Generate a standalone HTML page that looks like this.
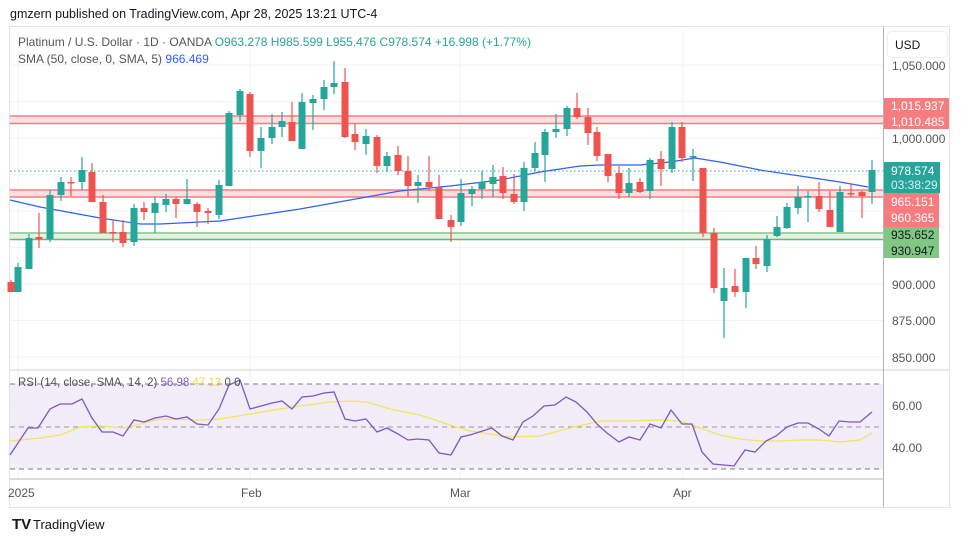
<!DOCTYPE html>
<html><head><meta charset="utf-8"><style>
body{margin:0;background:#fff;width:964px;height:542px;overflow:hidden;font-family:"Liberation Sans",sans-serif;}
svg{position:absolute;left:0;top:0}
</style></head><body>
<svg id="s" width="964" height="542" xmlns="http://www.w3.org/2000/svg" font-family="Liberation Sans, sans-serif">
<text x="10" y="18" font-size="12.5" fill="#131722">gmzern published on TradingView.com, Apr 28, 2025 13:21 UTC-4</text>
<rect x="9.5" y="26.5" width="940" height="481" fill="none" stroke="#e0e3eb"/>
<g id="grid" stroke="#f0f3fa" stroke-width="1"></g>
<!-- bands -->
<rect x="10" y="116" width="873" height="8" fill="#fbe0e1"/>
<line x1="10" y1="116" x2="883" y2="116" stroke="#f77c80" stroke-width="1.5"/>
<line x1="10" y1="123.5" x2="883" y2="123.5" stroke="#f77c80" stroke-width="1.5"/>
<rect x="10" y="190" width="873" height="7" fill="#fbe0e1"/>
<line x1="10" y1="190" x2="883" y2="190" stroke="#f77c80" stroke-width="1.5"/>
<line x1="10" y1="197" x2="883" y2="197" stroke="#f77c80" stroke-width="1.5"/>
<rect x="10" y="233" width="873" height="6" fill="#e3f2e4"/>
<line x1="10" y1="233" x2="883" y2="233" stroke="#81c784" stroke-width="1.5"/>
<line x1="10" y1="239.5" x2="883" y2="239.5" stroke="#66bb6a" stroke-width="1.5"/>
<line x1="10" y1="171" x2="883" y2="171" stroke="#26a69a" stroke-dasharray="1.5,2.5"/>
<polyline fill="none" stroke="#2962ff" stroke-width="1.2" points="10,200 40,207 100,218 140,224 160,224 220,221 260,215 300,209 350,200 400,191 450,186 500,180 540,172 580,166 600,165 640,165 670,162 695,158 720,162 760,170 800,176 840,182 868,187"/>
<g id="c"></g>
<!-- RSI -->
<rect x="10" y="384" width="873" height="85" fill="#ede8f7" opacity="0.8"/>
<line x1="10" y1="384" x2="883" y2="384" stroke="#787b86" stroke-dasharray="5,4"/>
<line x1="10" y1="427" x2="883" y2="427" stroke="#9598a1" stroke-dasharray="5,4"/>
<line x1="10" y1="469" x2="883" y2="469" stroke="#787b86" stroke-dasharray="5,4"/>
<polyline fill="none" stroke="#f7e35c" stroke-width="1.3" points="10,441 40,438 60,435 80,427 100,426 125,428 160,419 200,420 220,419 250,414 280,409 300,406 330,402 350,401 367,402 390,409 420,415 450,425 470,431 490,434 510,437 540,436 570,428 600,421 630,421 660,420 680,421 700,428 720,435 740,439 760,441 780,441 800,440 820,440 840,442 860,440 872,433"/>
<polyline fill="none" stroke="#7e57c2" stroke-width="1.3" points="10,455 28,428 38,428 50,409 60,404 72,404 82,399 92,418 102,432 113,432 123,436 134,420 144,422 155,418 166,416 176,419 187,417 197,424 208,425 219,409 229,385 240,380 250,409 261,406 272,403 282,401 292,409 302,397 313,396 324,393 334,392 345,419 355,421 366,419 377,432 387,428 398,434 408,440 418,439 429,440 439,453 451,455 461,437 470,435 492,428 502,436 513,440 523,422 533,416 544,406 555,405 566,397 576,402 587,412 597,424 607,433 619,442 629,437 640,440 650,424 661,428 671,410 682,424 692,424 702,452 713,464 724,465 734,466 745,450 755,452 766,441 776,436 787,427 798,423 808,423 819,429 829,436 839,421 850,422 860,422 872,412"/>
<line x1="10" y1="370" x2="949" y2="370" stroke="#d1d4dc"/>
<line x1="10" y1="479" x2="883" y2="479" stroke="#b2b5be"/>
<line x1="883.5" y1="27" x2="883.5" y2="507" stroke="#b2b5be"/>
<!-- legends -->
<text x="18" y="46" font-size="12" fill="#555"><tspan>Platinum / U.S. Dollar · 1D · OANDA </tspan><tspan fill="#26a69a">O963.278  H985.599  L955.476  C978.574  +16.998 (+1.77%)</tspan></text>
<text x="18" y="63" font-size="12" fill="#555">SMA (50, close, 0, SMA, 5) <tspan fill="#2962ff">966.469</tspan></text>
<text x="18" y="386" font-size="11.5" fill="#555">RSI (14, close, SMA, 14, 2) <tspan fill="#7e57c2">56.98</tspan> <tspan fill="#f5d936">47.13</tspan> 0 0</text>
<!-- axis labels -->
<rect x="887.5" y="31.5" width="60" height="26" rx="4" fill="#fff" stroke="#eee"/>
<text x="895" y="49" font-size="12" fill="#131722">USD</text>
<g font-size="12" fill="#555">
<text x="892" y="70">1,050.000</text><text x="892" y="143">1,000.000</text>
<text x="892" y="289">900.000</text><text x="892" y="325">875.000</text><text x="892" y="362">850.000</text>
<text x="892" y="410">60.00</text><text x="892" y="452">40.00</text>
<text x="8" y="497">2025</text><text x="241" y="497">Feb</text><text x="450" y="497">Mar</text><text x="673" y="497">Apr</text>
</g>
<rect x="884" y="98" width="65" height="15.5" fill="#f77c80"/><rect x="884" y="113.5" width="65" height="15.5" fill="#f77c80"/>
<rect x="884" y="162" width="56" height="31" fill="#26a69a"/>
<rect x="884" y="193" width="55" height="34" fill="#f77c80"/>
<rect x="884" y="227" width="55" height="31" fill="#81c784"/>
<g font-size="12" fill="#fff">
<text x="891" y="110">1,015.937</text><text x="891" y="126">1,010.485</text>
<text x="891" y="175">978.574</text><text x="891" y="189" fill="#d8f0ed">03:38:29</text>
<text x="891" y="206">965.151</text><text x="891" y="222">960.365</text>
<text x="891" y="239" fill="#131722">935.652</text><text x="891" y="255" fill="#131722">930.947</text>
</g>
<text x="12" y="529" font-size="15" font-weight="bold" fill="#131722">TV</text>
<text x="33" y="529" font-size="13" fill="#131722">TradingView</text>
</svg>
<script>
var NS="http://www.w3.org/2000/svg",s=document.getElementById('s');
var g=document.getElementById('grid');
[65,101.5,138,174.5,211,247.5,284,320.5,357,406,448].forEach(function(y){var l=document.createElementNS(NS,'line');l.setAttribute('x1',10);l.setAttribute('x2',883);l.setAttribute('y1',y);l.setAttribute('y2',y);g.appendChild(l);});
[18,250,460,683].forEach(function(x){var l=document.createElementNS(NS,'line');l.setAttribute('x1',x);l.setAttribute('x2',x);l.setAttribute('y1',27);l.setAttribute('y2',479);g.appendChild(l);});
// x, o, c, h, l  (pixel y)
var C=[[11,282,292,280,292],[18,292,267,292,263],[29,269,238,269,234],[39,237,239,213,248],[50,239,195,242,190],[61,195,182,201,177],[71,182,183,196,177],[82,182,170,190,157],[92,172,202,163,202],[103,202,233,195,233],[113,232,233,220,242],[123,232,243,220,247],[134,242,208,246,204],[144,208,212,202,220],[155,213,203,233,197],[166,205,199,212,194],[176,199,204,197,218],[187,204,199,204,179],[197,204,212,202,227],[208,211,213,208,224],[219,215,185,219,180],[229,186,113,186,111],[240,115,91,121,89],[250,94,151,92,157],[261,151,138,168,127],[272,138,127,144,114],[282,127,121,137,112],[292,122,141,102,141],[302,149,102,149,93],[313,103,99,130,95],[324,99,87,110,80],[334,87,83,94,61],[345,82,137,68,138],[355,134,142,124,150],[366,144,136,155,129],[377,137,166,135,173],[387,166,156,172,152],[398,155,171,146,175],[408,171,186,156,197],[418,186,182,203,175],[429,182,187,156,190],[439,187,219,175,219],[451,220,227,215,242],[461,222,193,226,179],[472,194,189,206,186],[482,189,182,199,171],[493,184,177,197,165],[503,176,193,167,199],[514,194,202,174,204],[524,202,168,211,162],[535,168,153,171,142],[545,155,132,182,129],[556,132,129,138,114],[567,129,108,136,106],[577,108,117,93,119],[588,117,133,108,145],[597,132,156,127,161],[608,154,176,154,182],[619,173,193,166,199],[629,193,183,197,168],[640,182,192,178,193],[650,191,160,199,158],[661,159,169,151,186],[672,169,127,173,122],[682,127,158,122,162],[693,156,156,149,181],[703,168,233,168,237],[714,233,288,228,293],[724,301,288,338,268],[735,286,292,269,297],[746,292,258,308,258],[756,258,264,246,269],[767,266,239,272,235],[777,236,227,237,216],[787,228,207,229,203],[798,208,197,214,186],[808,197,196,222,191],[819,196,209,182,212],[830,210,227,191,227],[840,232,192,232,186],[851,193,194,184,197],[862,192,196,191,218],[872,192,170,204,160]];
var cg=document.getElementById('c');
C.forEach(function(d){var up=d[2]<=d[1]&&!(d[2]==d[1]&&false);var col=(d[2]<d[1]||(d[2]==d[1]&&[71,187,693,808].indexOf(d[0])>=0))?'#26a69a':'#ef5350';
var l=document.createElementNS(NS,'line');l.setAttribute('x1',d[0]);l.setAttribute('x2',d[0]);l.setAttribute('y1',d[3]);l.setAttribute('y2',d[4]);l.setAttribute('stroke',col);l.setAttribute('stroke-width',1.2);cg.appendChild(l);
var r=document.createElementNS(NS,'rect');var t=Math.min(d[1],d[2]),h=Math.max(1.5,Math.abs(d[1]-d[2]));r.setAttribute('x',d[0]-3.5);r.setAttribute('y',t);r.setAttribute('width',7);r.setAttribute('height',h);r.setAttribute('fill',col);cg.appendChild(r);});
</script>
</body></html>
